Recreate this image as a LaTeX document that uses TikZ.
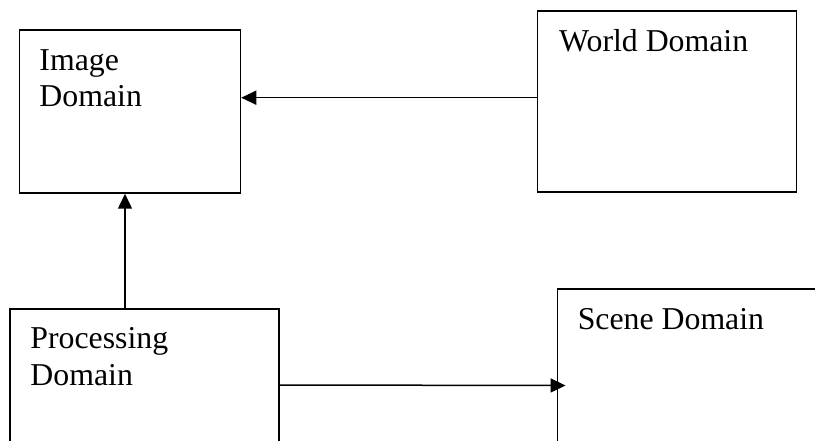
\documentclass[tikz,border=0pt]{standalone}
\usepackage{fontspec}
\setmainfont{Liberation Serif}
\usetikzlibrary{arrows.meta,calc}
\begin{document}
\begin{tikzpicture}[x=1pt,y=-1pt,
  box/.style={draw,line width=1.5pt,rectangle,inner sep=0pt},
  lbl/.style={anchor=base west,inner sep=0pt,align=left,font=\fontsize{31.8}{36.5}\selectfont},
  arr/.style={line width=1.5pt,-{Triangle[length=15pt,width=14pt]}}]
\useasboundingbox (0,0) rectangle (815,441);
\clip (0,0) rectangle (815,441);
\node[box,minimum width=221pt,minimum height=163pt] (img) at (130,111.5) {};
\node[box,minimum width=259pt,minimum height=181pt] (world) at (667.2,101.5) {};
\node[box,minimum width=269pt,minimum height=152pt] (proc) at (144.5,385) {};
\node[box,minimum width=280pt,minimum height=193pt] (scene) at (697.3,385.5) {};
\node[lbl] (imgt) at ([xshift=20.5pt,yshift=-77.3pt]img.north west) {Image\\Domain};
\node[lbl] (worldt) at ([xshift=22pt,yshift=-41pt]world.north west) {World Domain};
\node[lbl] (proct) at ([xshift=21pt,yshift=-77pt]proc.north west) {Processing\\Domain};
\node[lbl] (scenet) at ([xshift=21pt,yshift=-41pt]scene.north west) {Scene Domain};
\coordinate (wa) at ([yshift=3.8pt]world.west);
\draw[arr] (wa) -- (wa -| img.east);
\coordinate (pa) at ([xshift=-5pt]img.south);
\draw[arr] (pa |- proc.north) -- (pa);
\draw[arr] (proc.east) -- ([xshift=9pt]scene.west);
\end{tikzpicture}
\end{document}
